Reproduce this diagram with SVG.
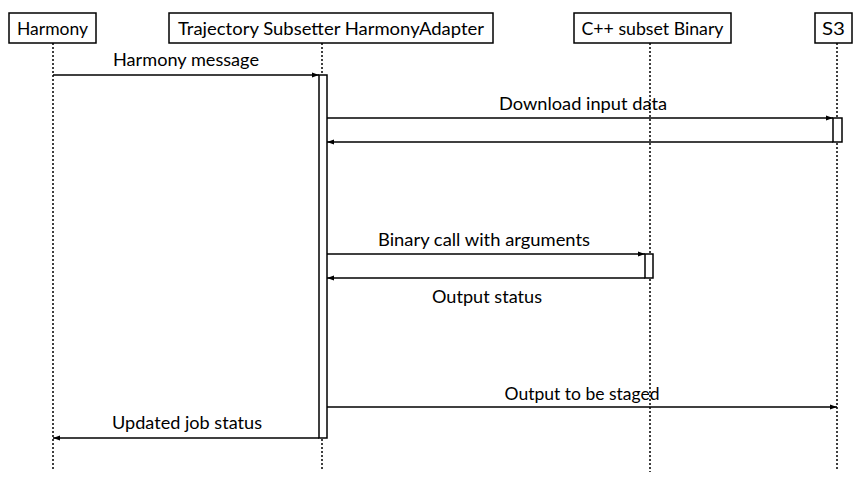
<svg xmlns="http://www.w3.org/2000/svg" width="860" height="495" viewBox="0 0 860 495">
<style>
.box{fill:#fff;stroke:#000;stroke-width:1.5}
.life{stroke:#000;stroke-width:1.5;stroke-dasharray:2,2;fill:none}
.act{fill:#fff;stroke:#000;stroke-width:1.5}
.msg{stroke:#000;stroke-width:1.6;fill:none;marker-end:url(#ah)}
text{font-family:Lato,"Open Sans",sans-serif;font-size:18px;fill:#000}
.c{text-anchor:middle}
</style>
<defs>
<marker id="ah" markerWidth="8" markerHeight="6" refX="7" refY="3" orient="auto" markerUnits="userSpaceOnUse">
<path d="M0,0.5 L7,3 L0,5.5 Z" fill="#000"/>
</marker>
</defs>
<g id="lifelines">
<line class="life" x1="53" y1="43" x2="53" y2="470"/>
<line class="life" x1="322" y1="43" x2="322" y2="470"/>
<line class="life" x1="650" y1="43" x2="650" y2="472"/>
<line class="life" x1="837" y1="43" x2="837" y2="470"/>
</g>
<g id="harmony">
<rect class="box" x="9" y="13" width="87" height="30"/>
<text class="c" x="52.5" y="35" textLength="71" lengthAdjust="spacingAndGlyphs">Harmony</text>
</g>
<g id="adapter">
<rect class="box" x="169" y="13" width="324" height="30"/>
<text class="c" x="331" y="35" textLength="306" lengthAdjust="spacingAndGlyphs">Trajectory Subsetter HarmonyAdapter</text>
<rect class="act" x="319" y="75" width="8" height="363"/>
</g>
<g id="binary">
<rect class="box" x="574" y="13" width="157" height="30"/>
<text class="c" x="652.5" y="35" textLength="142" lengthAdjust="spacingAndGlyphs">C++ subset Binary</text>
<rect class="act" x="645" y="254" width="8" height="24"/>
</g>
<g id="s3">
<rect class="box" x="815" y="13" width="37" height="30"/>
<text class="c" x="833.5" y="35" textLength="23" lengthAdjust="spacingAndGlyphs">S3</text>
<rect class="act" x="833" y="118" width="9" height="24"/>
</g>
<g id="connectors">
<line class="msg" x1="53" y1="75" x2="319" y2="75"/>
<text class="c" x="186" y="66" textLength="146" lengthAdjust="spacingAndGlyphs">Harmony message</text>
<line class="msg" x1="327" y1="118" x2="833" y2="118"/>
<text class="c" x="583" y="110" textLength="168" lengthAdjust="spacingAndGlyphs">Download input data</text>
<line class="msg" x1="833" y1="142" x2="327" y2="142"/>
<line class="msg" x1="327" y1="254" x2="645" y2="254"/>
<text class="c" x="484" y="246" textLength="212" lengthAdjust="spacingAndGlyphs">Binary call with arguments</text>
<line class="msg" x1="645" y1="278" x2="327" y2="278"/>
<text class="c" x="487" y="303" textLength="110" lengthAdjust="spacingAndGlyphs">Output status</text>
<line class="msg" x1="327" y1="407" x2="837" y2="407"/>
<text class="c" x="582" y="400" textLength="155" lengthAdjust="spacingAndGlyphs">Output to be staged</text>
<line class="msg" x1="319" y1="438" x2="53" y2="438"/>
<text class="c" x="187" y="429" textLength="150" lengthAdjust="spacingAndGlyphs">Updated job status</text>
</g>
</svg>
